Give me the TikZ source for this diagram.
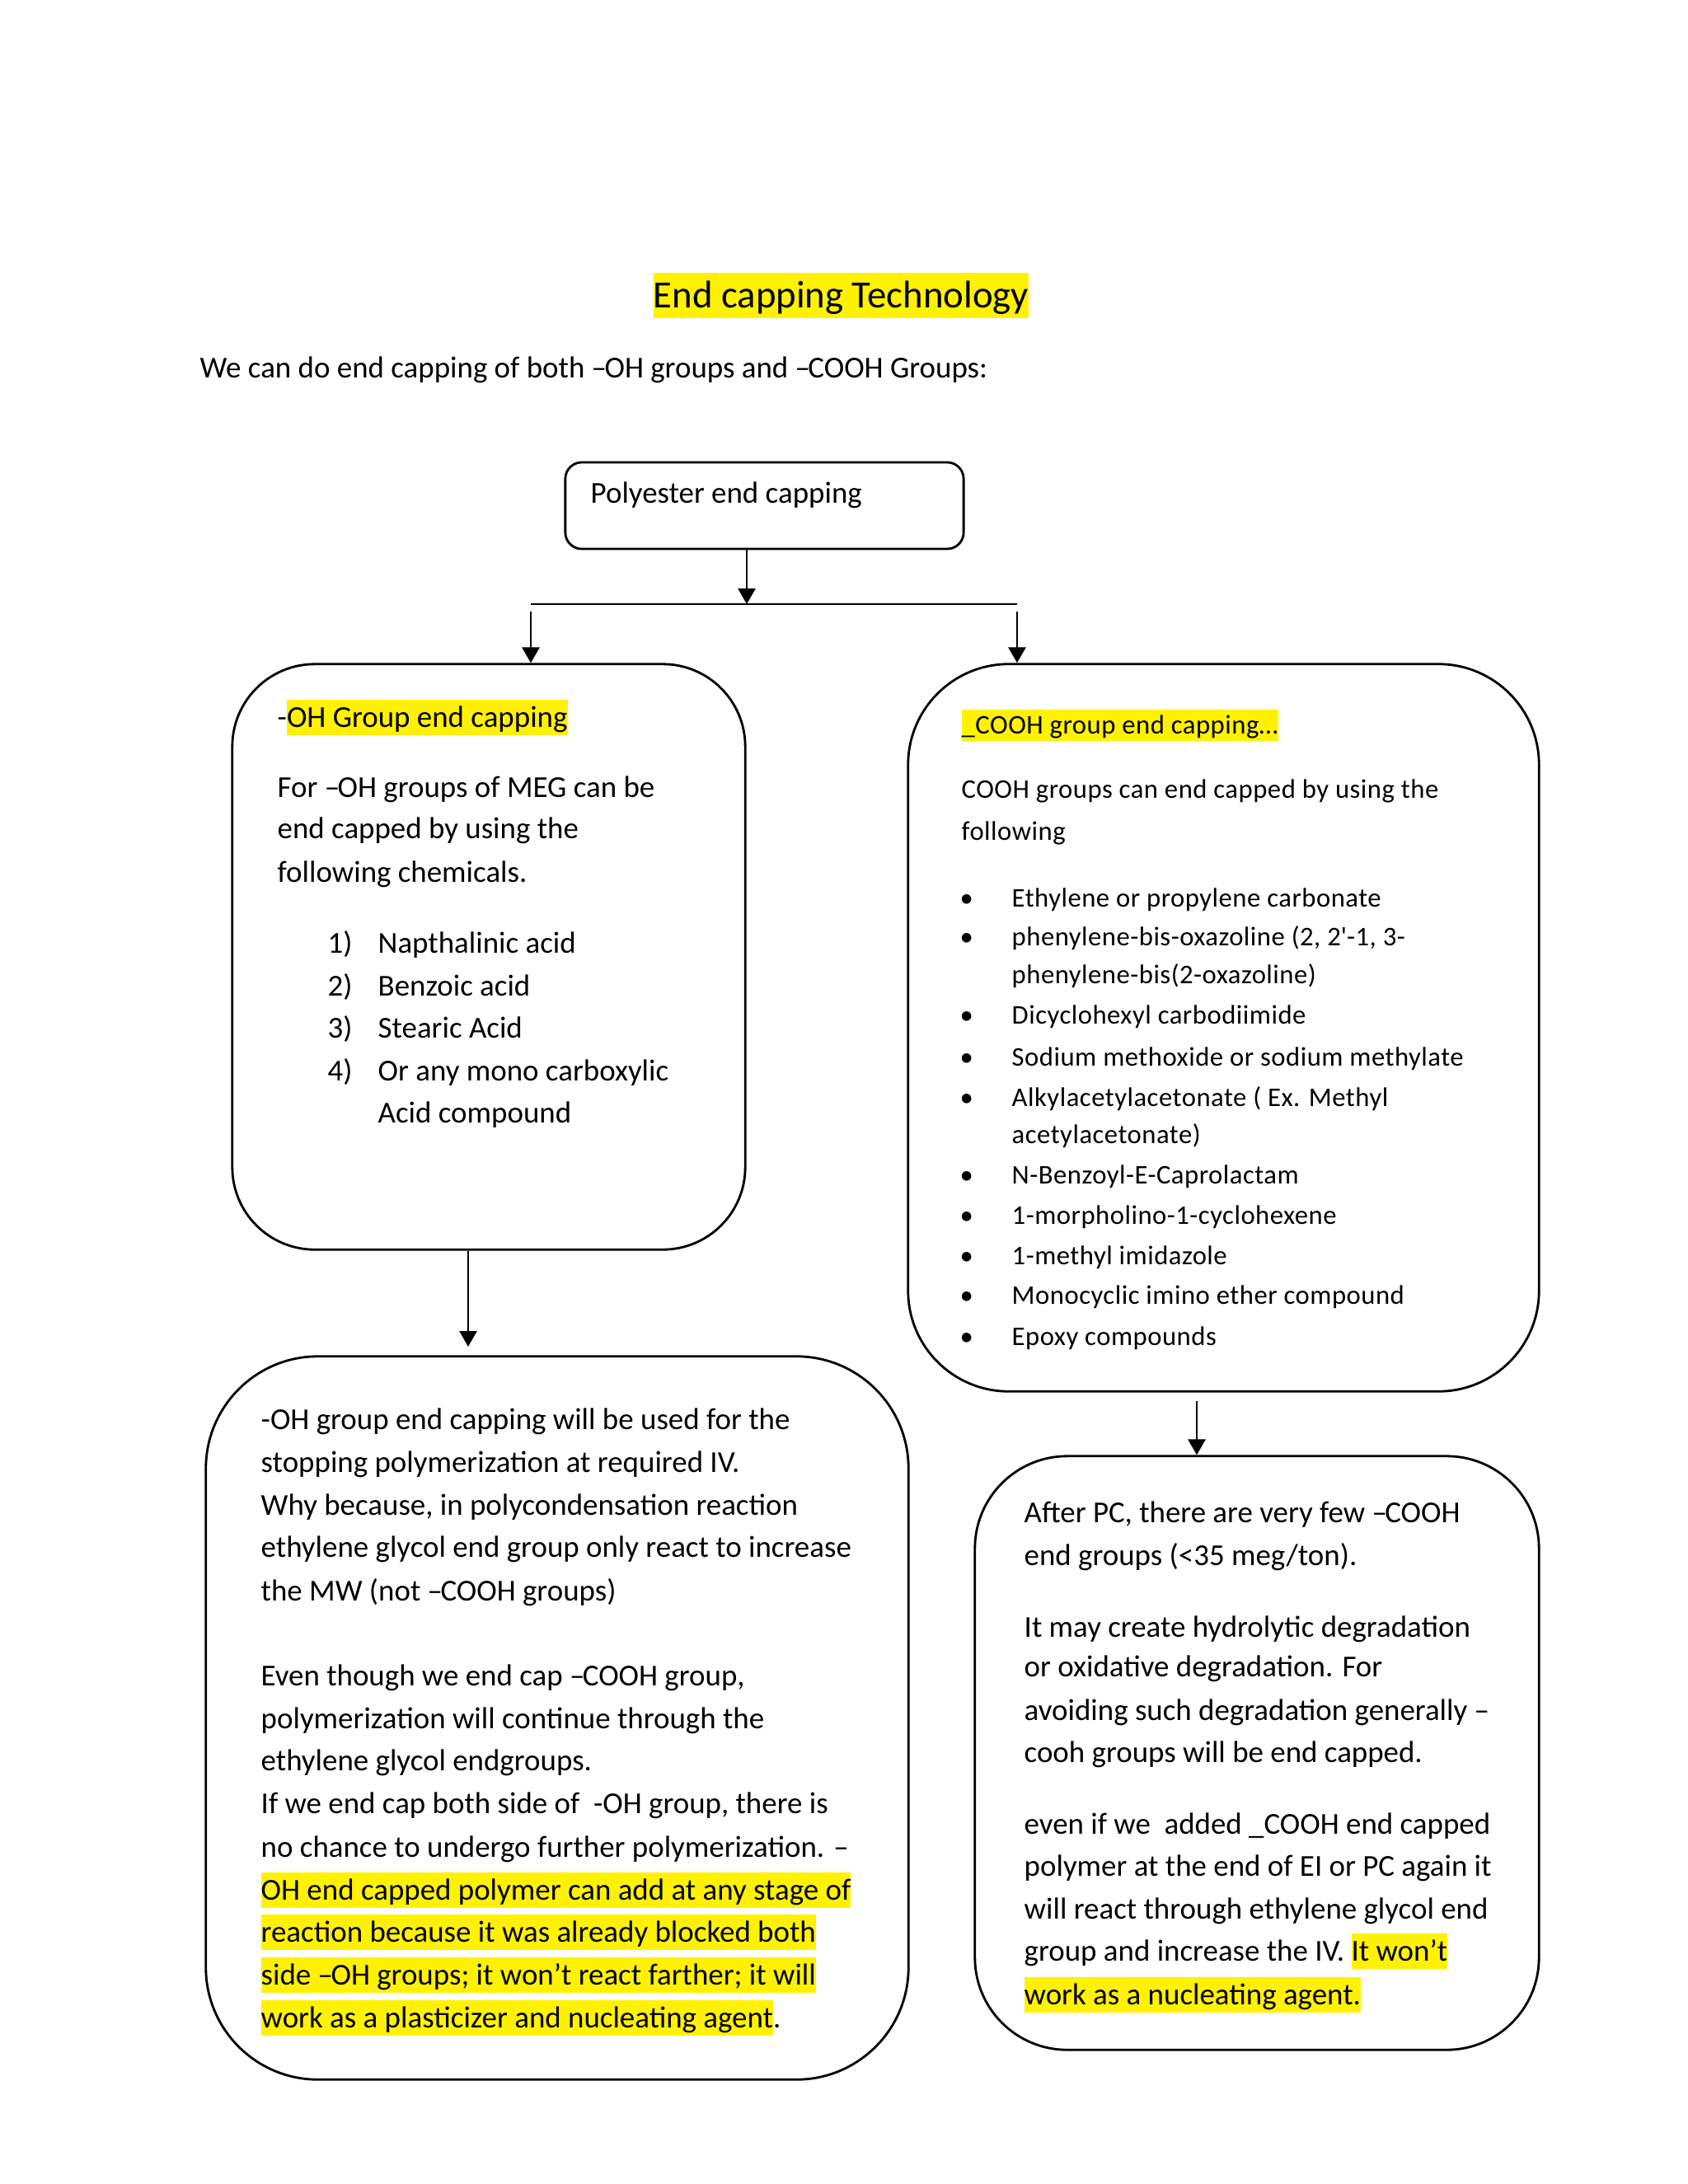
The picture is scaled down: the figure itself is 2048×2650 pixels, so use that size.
\documentclass[tikz,border=0pt]{standalone}
\usepackage{fontspec}
\setmainfont{Carlito}
\newfontfamily\spacedfont[LetterSpace=1.5]{Carlito}
\usetikzlibrary{arrows.meta}
\newcommand\hlt[1]{{\setlength{\fboxsep}{0pt}\colorbox{yellow}{\rule[-0.27em]{0pt}{1.17em}#1}}}
\newcommand\nd{–\kern-0.07em}
\begin{document}
\begin{tikzpicture}[x=0.01cm,y=-0.01cm,
  roundbox/.style={draw, line width=0.8pt, rounded corners=#1, inner sep=0pt},
  arr/.style={-{Triangle[length=0.19cm,width=0.21cm]}, line width=0.8pt},
  plain/.style={line width=0.8pt},
  txt/.style={anchor=base west, inner sep=0pt, font=\fontsize{10.5}{13}\selectfont},
  ctxt/.style={anchor=base west, inner sep=0pt, font=\spacedfont\fontsize{9.3}{12}\selectfont},
  titletxt/.style={anchor=base west, inner sep=0pt, font=\fontsize{13.3}{16}\selectfont}]
\useasboundingbox (0,0) rectangle (2048,2650);
\fill[white] (0,0) rectangle (2048,2650);

% title and intro
\node[titletxt] (title) at (792,373) {\hlt{End capping Technology}};
\node[txt] (intro) at (242,458) {We can do end capping of both \nd OH groups and \nd COOH Groups:};

% boxes
\node[roundbox=0.2cm, minimum width=4.83cm, minimum height=1.05cm] (poly) at (927.5,613.5) {};
\node[txt] (polytxt) at (716,610) {Polyester end capping};
\node[roundbox=1.0cm, minimum width=6.22cm, minimum height=7.10cm] (ohbox) at (593,1161) {};
\node[roundbox=1.22cm, minimum width=7.65cm, minimum height=8.82cm] (cbox) at (1484.5,1247) {};
\node[roundbox=1.36cm, minimum width=8.52cm, minimum height=8.77cm] (ohbox2) at (676,2084.5) {};
\node[roundbox=1.12cm, minimum width=6.84cm, minimum height=7.20cm] (cbox2) at (1525,2127) {};

% connectors
\coordinate (split) at (906,733);
\coordinate (jl) at (644,733);
\coordinate (jr) at (1234,733);
\coordinate (jls) at (644,742);
\coordinate (jrs) at (1234,742);
\coordinate (a2) at (568,1634);
\coordinate (a3s) at (1452,1700);
\draw[arr] (split |- poly.south) -- (split);
\draw[plain] (jl) -- (jr);
\draw[arr] (jls) -- (jls |- ohbox.north);
\draw[arr] (jrs) -- (jrs |- cbox.north);
\draw[arr] (a2 |- ohbox.south) -- (a2);
\draw[arr] (a3s) -- (a3s |- cbox2.north);

% left box 1
\node[txt] (ohhead) at (336,882) {-\hlt{OH Group end capping}};
\foreach \yv/\tv [count=\i] in {967/{For \nd OH groups of MEG can be}, 1017/{end capped by using the}, 1070/{following chemicals.}}
  \node[txt] (ohl\i) at (336,\yv) {\tv};
\foreach \yv/\nv/\tv [count=\i] in {1156/1)/{Napthalinic acid}, 1208/2)/{Benzoic acid}, 1259/3)/{Stearic Acid}, 1311/4)/{Or any mono carboxylic}}
  {\node[txt] (num\i) at (397,\yv) {\nv};
   \node[txt] (item\i) at (458,\yv) {\tv};}
\node[txt] (item5) at (458,1362) {Acid compound};

% right box 1
\node[ctxt] (chead) at (1166,890) {\hlt{\_COOH group end capping…}};
\node[ctxt] (cl1) at (1166,968) {COOH groups can end capped by using the};
\node[ctxt] (cl2) at (1166,1019) {following};
\foreach \yv in {1100,1147,1242,1293,1342,1436,1485,1534,1582,1632}
  \node[ctxt] (bul\yv) at (1164,\yv) {•};
\foreach \yv/\tv [count=\i] in {1100/{Ethylene or propylene carbonate}, 1147/{phenylene-bis-oxazoline (2, 2\textquotesingle-1, 3-}, 1193/{phenylene-bis(2-oxazoline)}, 1242/{Dicyclohexyl carbodiimide}, 1293/{Sodium methoxide or sodium methylate}, 1342/{Alkylacetylacetonate ( Ex. Methyl}, 1387/{acetylacetonate)}, 1436/{N-Benzoyl-E-Caprolactam}, 1485/{1-morpholino-1-cyclohexene}, 1534/{1-methyl imidazole}, 1582/{Monocyclic imino ether compound}, 1632/{Epoxy compounds}}
  \node[ctxt] (ci\i) at (1227,\yv) {\tv};

% left box 2
\foreach \yv/\tv [count=\i] in {1734/{-OH group end capping will be used for the}, 1786/{stopping polymerization at required IV.}, 1838/{Why because, in polycondensation reaction}, 1889/{ethylene glycol end group only react to increase}, 1942/{the MW (not \nd COOH groups)}, 2045/{Even though we end cap \nd COOH group,}, 2097/{polymerization will continue through the}, 2148/{ethylene glycol endgroups.}, 2200/{If we end cap both side of~ -OH group, there is}, 2253/{no chance to undergo further polymerization. –}, 2305/{\hlt{OH end capped polymer can add at any stage of}}, 2356/{\hlt{reaction because it was already blocked both}}, 2408/{\hlt{side \nd OH groups; it won’t react farther; it will}}, 2460/{\hlt{work as a plasticizer and nucleating agent}.}}
  \node[txt] (ol\i) at (316,\yv) {\tv};

% right box 2
\foreach \yv/\tv [count=\i] in {1847/{After PC, there are very few \nd COOH}, 1899/{end groups (<35 meg/ton).}, 1986/{It may create hydrolytic degradation}, 2034/{or oxidative degradation. For}, 2087/{avoiding such degradation generally –}, 2138/{cooh groups will be end capped.}, 2225/{even if we~ added \_COOH end capped}, 2276/{polymer at the end of EI or PC again it}, 2328/{will react through ethylene glycol end}, 2379/{group and increase the IV. \hlt{It won’t}}, 2432/{\hlt{work as a nucleating agent.}}}
  \node[txt] (rl\i) at (1242,\yv) {\tv};
\end{tikzpicture}
\end{document}
